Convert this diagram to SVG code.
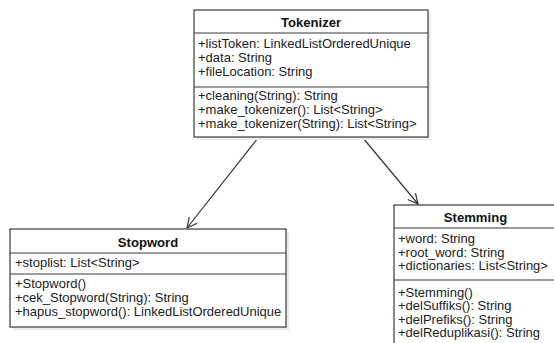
<svg xmlns="http://www.w3.org/2000/svg" width="554" height="343" viewBox="0 0 554 343">
<style>
.box{fill:#ffffff;stroke:#3a3a3a;stroke-width:1.2}
.shadow{fill:#ebebeb}
.sep{stroke:#3a3a3a;stroke-width:1.2}
.t{font-family:"Liberation Sans",Arial,sans-serif;font-size:13px;fill:#222}
.h{font-family:"Liberation Sans",Arial,sans-serif;font-size:13.1px;font-weight:bold;fill:#111;text-anchor:middle}
.conn{stroke:#333;stroke-width:1.2;fill:none}
</style>
<defs>
<marker id="open" viewBox="0 0 12 12" refX="11" refY="6" markerWidth="12" markerHeight="12" markerUnits="userSpaceOnUse" orient="auto">
<path d="M1,1 L11,6 L1,11" fill="none" stroke="#333" stroke-width="1.2"/>
</marker>
</defs>
<rect width="554" height="343" fill="#ffffff"/>
<g id="connectors">
<line class="conn" x1="258" y1="138" x2="187" y2="228" marker-end="url(#open)"/>
<line class="conn" x1="363" y1="138" x2="418" y2="204" marker-end="url(#open)"/>
</g>
<g id="tokenizer">
<rect class="shadow" x="197" y="13" width="234" height="127"/>
<rect class="box" x="194" y="10" width="234" height="127"/>
<line class="sep" x1="194" y1="33" x2="428" y2="33"/>
<line class="sep" x1="194" y1="87" x2="428" y2="87"/>
<text class="h" x="311" y="27">Tokenizer</text>
<text class="t" x="198" y="48">+listToken: LinkedListOrderedUnique</text>
<text class="t" x="198" y="62">+data: String</text>
<text class="t" x="198" y="76">+fileLocation: String</text>
<text class="t" x="198" y="100">+cleaning(String): String</text>
<text class="t" x="198" y="114">+make_tokenizer(): List&lt;String&gt;</text>
<text class="t" x="198" y="128">+make_tokenizer(String): List&lt;String&gt;</text>
</g>
<g id="stopword">
<rect class="shadow" x="13" y="232" width="276" height="98"/>
<rect class="box" x="10" y="229" width="276" height="98"/>
<line class="sep" x1="10" y1="253" x2="286" y2="253"/>
<line class="sep" x1="10" y1="274" x2="286" y2="274"/>
<text class="h" x="148" y="246.5">Stopword</text>
<text class="t" x="15" y="266.5">+stoplist: List&lt;String&gt;</text>
<text class="t" x="15" y="288">+Stopword()</text>
<text class="t" x="15" y="302">+cek_Stopword(String): String</text>
<text class="t" x="15" y="316">+hapus_stopword(): LinkedListOrderedUnique</text>
</g>
<g id="stemming">
<rect class="shadow" x="397" y="208" width="163" height="150"/>
<rect class="box" x="394" y="205" width="163" height="150"/>
<line class="sep" x1="394" y1="228" x2="557" y2="228"/>
<line class="sep" x1="394" y1="280" x2="557" y2="280"/>
<text class="h" x="475.5" y="221.5">Stemming</text>
<text class="t" x="398" y="243">+word: String</text>
<text class="t" x="398" y="256.5">+root_word: String</text>
<text class="t" x="398" y="270">+dictionaries: List&lt;String&gt;</text>
<text class="t" x="398" y="296.5">+Stemming()</text>
<text class="t" x="398" y="310">+delSuffiks(): String</text>
<text class="t" x="398" y="323.5">+delPrefiks(): String</text>
<text class="t" x="398" y="337">+delReduplikasi(): String</text>
</g>
</svg>
